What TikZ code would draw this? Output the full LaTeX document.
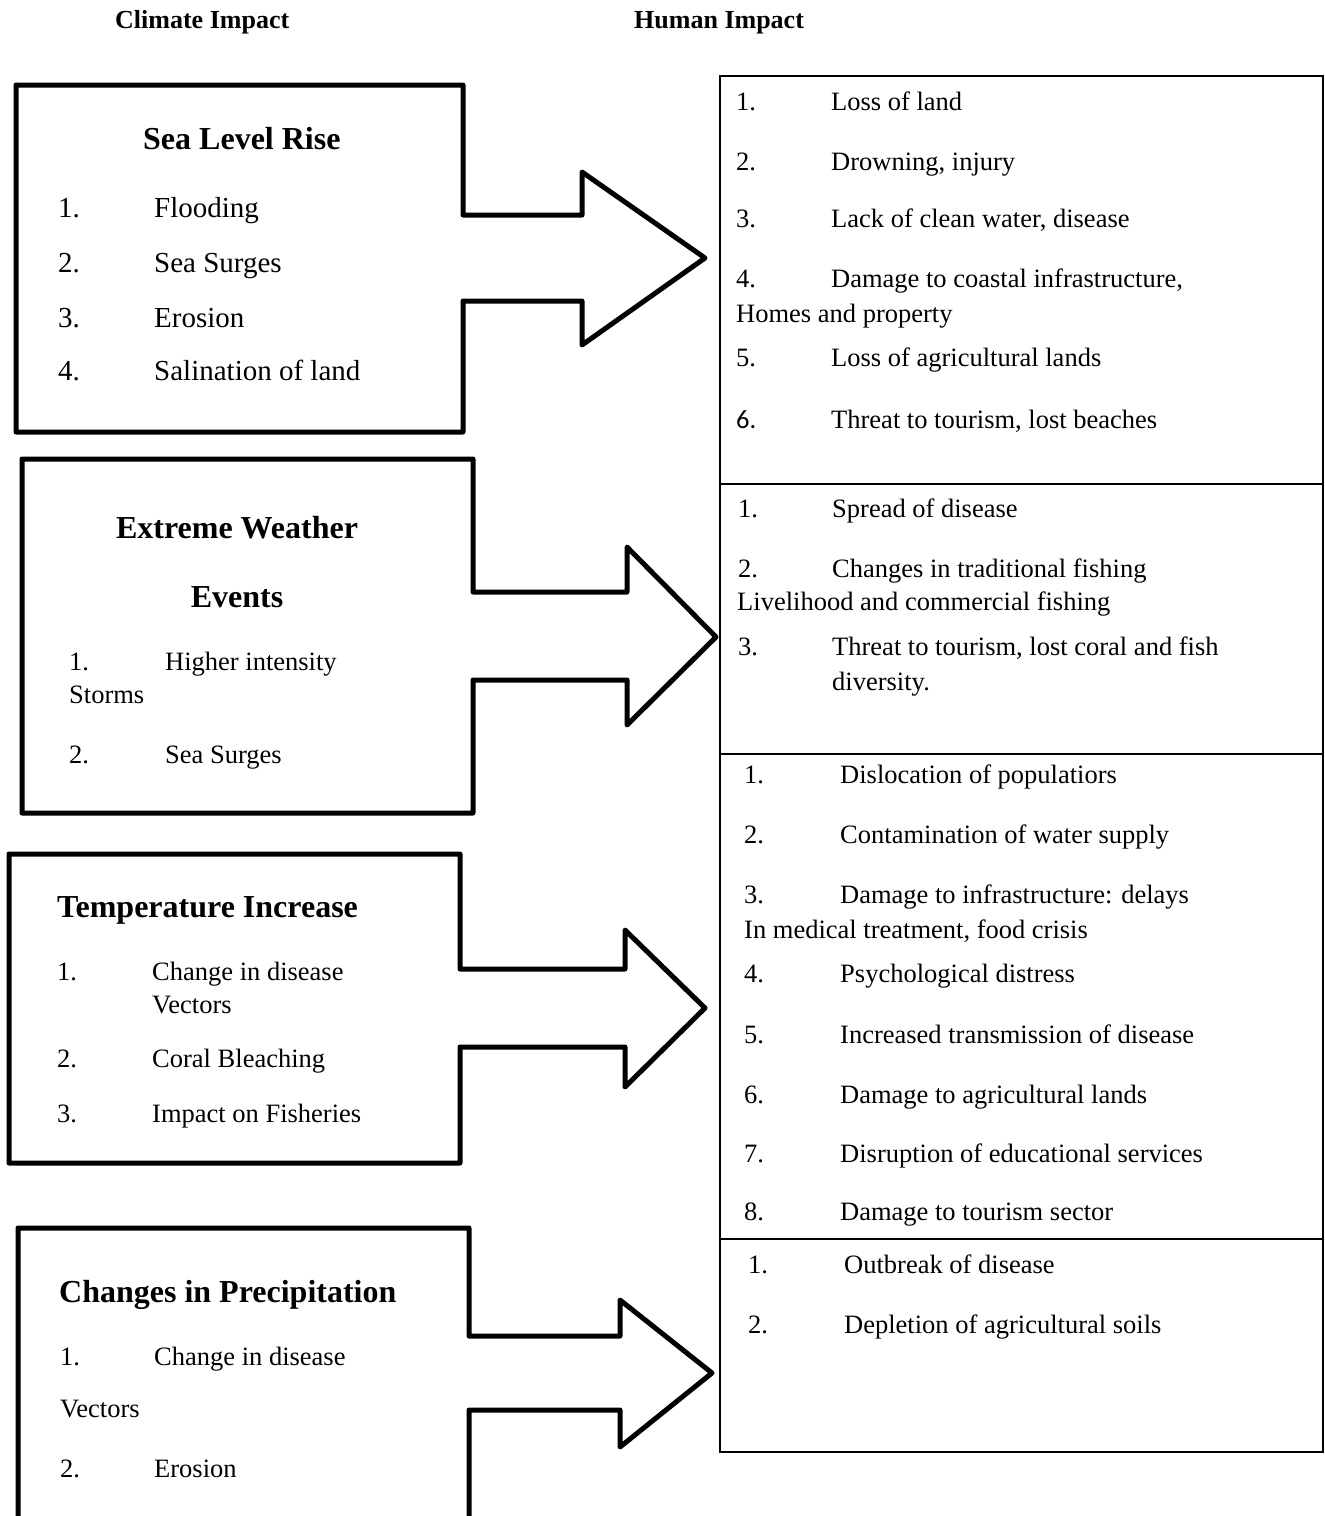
\documentclass[tikz,border=0pt]{standalone}
\usepackage{fontspec}
\setmainfont{Liberation Serif}
\newfontfamily\calfont{Carlito}
\begin{document}
\begin{tikzpicture}[x=1pt,y=-1pt,
  txt/.style={anchor=base west,inner sep=0pt,font=\fontsize{26.5}{30}\selectfont},
  txtA/.style={anchor=base west,inner sep=0pt,font=\fontsize{29}{32}\selectfont},
  head/.style={anchor=base west,inner sep=0pt,font=\fontsize{32}{36}\selectfont\bfseries},
  headc/.style={anchor=base,inner sep=0pt,font=\fontsize{32}{36}\selectfont\bfseries},
  toptitle/.style={anchor=base west,inner sep=0pt,font=\fontsize{26}{30}\selectfont\bfseries},
  cbox/.style={line width=5pt,line join=round,line cap=round},
  hbox/.style={line width=2.2pt}]
\useasboundingbox (0,0) rectangle (1325,1516);

% column titles
\node[toptitle] (tl) at (115,28) {Climate Impact};
\node[toptitle] (tr) at (634,28) {Human Impact};

% climate boxes merged with their arrows
\draw[cbox] (16,85) -- (463,85) -- (463,215) -- (582,215) -- (582,172) -- (705,258)
  -- (582,345) -- (582,301) -- (463,301) -- (463,432) -- (16,432) -- cycle;
\draw[cbox] (22,459) -- (473,459) -- (473,592) -- (627,592) -- (627,547) -- (716,637)
  -- (627,725) -- (627,680) -- (473,680) -- (473,813) -- (22,813) -- cycle;
\draw[cbox] (9,854) -- (460,854) -- (460,969) -- (625,969) -- (625,930) -- (705,1008)
  -- (625,1087) -- (625,1047) -- (460,1047) -- (460,1163) -- (9,1163) -- cycle;
\draw[cbox] (18,1520) -- (18,1228) -- (469,1228) -- (469,1336) -- (620,1336) -- (620,1300)
  -- (712,1373) -- (620,1447) -- (620,1410) -- (469,1410) -- (469,1520);

% human impact box
\draw[hbox] (720,76) rectangle (1323,1452);
\draw[hbox] (720,484) -- (1323,484);
\draw[hbox] (720,754) -- (1323,754);
\draw[hbox] (720,1239) -- (1323,1239);

% box 1
\node[head] (h1) at (143,149) {Sea Level Rise};
\node[txtA] (a1n) at (58,217) {1.};  \node[txtA] (a1) at (154,217) {Flooding};
\node[txtA] (a2n) at (58,272) {2.};  \node[txtA] (a2) at (154,272) {Sea Surges};
\node[txtA] (a3n) at (58,327) {3.};  \node[txtA] (a3) at (154,327) {Erosion};
\node[txtA] (a4n) at (58,380) {4.};  \node[txtA] (a4) at (154,380) {Salination of land};

% box 2
\node[headc] (h2a) at (237,538) {Extreme Weather};
\node[headc] (h2b) at (237,607) {Events};
\node[txt] (b1n) at (69,670) {1.};  \node[txt] (b1) at (165,670) {Higher intensity};
\node[txt] (b1c) at (69,703) {Storms};
\node[txt] (b2n) at (69,763) {2.};  \node[txt] (b2) at (165,763) {Sea Surges};

% box 3
\node[head] (h3) at (57,917) {Temperature Increase};
\node[txt] (c1n) at (57,980) {1.};  \node[txt] (c1) at (152,980) {Change in disease};
\node[txt] (c1c) at (152,1013) {Vectors};
\node[txt] (c2n) at (57,1067) {2.}; \node[txt] (c2) at (152,1067) {Coral Bleaching};
\node[txt] (c3n) at (57,1122) {3.}; \node[txt] (c3) at (152,1122) {Impact on Fisheries};

% box 4
\node[head] (h4) at (59,1302) {Changes in Precipitation};
\node[txt] (d1n) at (60,1365) {1.}; \node[txt] (d1) at (154,1365) {Change in disease};
\node[txt] (d1c) at (60,1417) {Vectors};
\node[txt] (d2n) at (60,1477) {2.}; \node[txt] (d2) at (154,1477) {Erosion};

% human section 1
\node[txt] (e1n) at (736,110) {1.}; \node[txt] (e1) at (831,110) {Loss of land};
\node[txt] (e2n) at (736,170) {2.}; \node[txt] (e2) at (831,170) {Drowning, injury};
\node[txt] (e3n) at (736,227) {3.}; \node[txt] (e3) at (831,227) {Lack of clean water, disease};
\node[txt] (e4n) at (736,287) {4.}; \node[txt] (e4) at (831,287) {Damage to coastal infrastructure,};
\node[txt] (e4c) at (736,322) {Homes and property};
\node[txt] (e5n) at (736,366) {5.}; \node[txt] (e5) at (831,366) {Loss of agricultural lands};
\node[txt,font=\fontsize{26.5}{30}\calfont] (e6n) at (736,428) {6.}; \node[txt] (e6) at (831,428) {Threat to tourism, lost beaches};

% human section 2
\node[txt] (f1n) at (738,517) {1.}; \node[txt] (f1) at (832,517) {Spread of disease};
\node[txt] (f2n) at (738,577) {2.}; \node[txt] (f2) at (832,577) {Changes in traditional fishing};
\node[txt] (f2c) at (737,610) {Livelihood and commercial fishing};
\node[txt] (f3n) at (738,655) {3.}; \node[txt] (f3) at (832,655) {Threat to tourism, lost coral and fish};
\node[txt] (f3c) at (832,690) {diversity.};

% human section 3
\node[txt] (g1n) at (744,783) {1.};  \node[txt] (g1) at (840,783) {Dislocation of populatiors};
\node[txt] (g2n) at (744,843) {2.};  \node[txt] (g2) at (840,843) {Contamination of water supply};
\node[txt] (g3n) at (744,903) {3.};  \node[txt] (g3) at (840,903) {Damage to infrastructure: delays};
\node[txt] (g3c) at (744,938) {In medical treatment, food crisis};
\node[txt] (g4n) at (744,982) {4.};  \node[txt] (g4) at (840,982) {Psychological distress};
\node[txt] (g5n) at (744,1043) {5.}; \node[txt] (g5) at (840,1043) {Increased transmission of disease};
\node[txt] (g6n) at (744,1103) {6.}; \node[txt] (g6) at (840,1103) {Damage to agricultural lands};
\node[txt] (g7n) at (744,1162) {7.}; \node[txt] (g7) at (840,1162) {Disruption of educational services};
\node[txt] (g8n) at (744,1220) {8.}; \node[txt] (g8) at (840,1220) {Damage to tourism sector};

% human section 4
\node[txt] (k1n) at (748,1273) {1.}; \node[txt] (k1) at (844,1273) {Outbreak of disease};
\node[txt] (k2n) at (748,1333) {2.}; \node[txt] (k2) at (844,1333) {Depletion of agricultural soils};
\end{tikzpicture}
\end{document}
